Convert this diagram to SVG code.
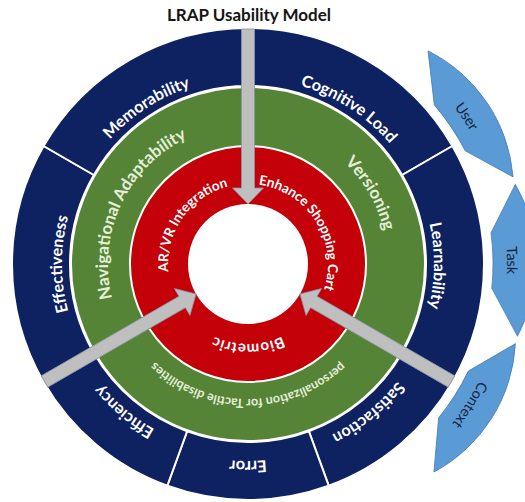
<svg xmlns="http://www.w3.org/2000/svg" width="525" height="502" viewBox="0 0 525 502">
  <defs>
    <style>
      text { font-family: Lato, "Liberation Sans", "DejaVu Sans", sans-serif; font-weight: 700; }
      .title { font-size: 17px; fill: #151515; }
      .nv { font-size: 16.3px; fill: #ffffff; }
      .gr { font-size: 17px; fill: #e4efd9; }
      .gs { font-size: 12.5px; fill: #e4efd9; }
      .rd { font-size: 13.6px; fill: #ffffff; }
      .bl { font-size: 14.5px; font-weight: 400; fill: #17253f; }
      .seg { fill: #0e2161; stroke: #ffffff; stroke-width: 2; }
      .chev { fill: #5b9bd5; stroke: #4a80bb; stroke-width: 0.8; }
      .arr { fill: #bfbfbf; stroke: #8a93a6; stroke-width: 0.8; }
    </style>
    <!-- ring sectors, starting at angle 0 and sweeping clockwise -->
    <path id="sec60" d="M178,0L236,0A236,236 0 0 1 118,204.38L89,154.15A178,178 0 0 0 178,0Z"/>
    <path id="sec40" d="M178,0L236,0A236,236 0 0 1 180.79,151.70L136.36,114.42A178,178 0 0 0 178,0Z"/>
    <!-- outer context band piece, centred on angle 0 -->
    <path id="band" d="M243.43,-27.73L268.46,-75.97A155,155 0 0 1 268.46,75.97L243.43,27.73A245,245 0 0 0 243.43,-27.73Z"/>
    <!-- clockwise circles for labels; 50% offset lands at angle 0 -->
    <path id="c80" d="M-80,0A80,80 0 0 1 80,0A80,80 0 0 1 -80,0"/>
    <path id="c135" d="M-135,0A135,135 0 0 1 135,0A135,135 0 0 1 -135,0"/>
    <path id="c140" d="M-140,0A140,140 0 0 1 140,0A140,140 0 0 1 -140,0"/>
    <path id="c186" d="M-186,0A186,186 0 0 1 186,0A186,186 0 0 1 -186,0"/>
    <path id="c190" d="M-190,0A190,190 0 0 1 190,0A190,190 0 0 1 -190,0"/>
    <path id="c197" d="M-197,0A197,197 0 0 1 197,0A197,197 0 0 1 -197,0"/>
    <path id="c259" d="M-259,0A259,259 0 0 1 259,0A259,259 0 0 1 -259,0"/>
    <!-- arrow pointing along +x, tail at origin -->
    <path id="arrow" d="M0,-6.5H159V-15.5L175,0L159,15.5V6.5H0Z"/>
  </defs>

  <rect width="525" height="502" fill="#ffffff"/>
  <text class="title" x="249" y="21" text-anchor="middle">LRAP Usability Model</text>

  <g transform="translate(248,264)">
    <!-- outer ring: usability attributes -->
    <g id="cognitive-load">
      <use href="#sec60" class="seg" transform="rotate(-90)"/>
      <g transform="rotate(-57)"><text class="nv" text-anchor="middle"><textPath href="#c186" startOffset="50%">Cognitive Load</textPath></text></g>
    </g>
    <g id="learnability">
      <use href="#sec60" class="seg" transform="rotate(-30)"/>
      <g transform="rotate(0.5)"><text class="nv" text-anchor="middle"><textPath href="#c186" startOffset="50%">Learnability</textPath></text></g>
    </g>
    <g id="satisfaction">
      <use href="#sec40" class="seg" transform="rotate(30)"/>
      <g transform="rotate(51)"><text class="nv" text-anchor="middle"><textPath href="#c190" startOffset="50%">Satisfaction</textPath></text></g>
    </g>
    <g id="error">
      <use href="#sec40" class="seg" transform="rotate(70)"/>
      <g transform="rotate(90)"><text class="nv" text-anchor="middle"><textPath href="#c197" startOffset="50%">Error</textPath></text></g>
    </g>
    <g id="efficiency">
      <use href="#sec40" class="seg" transform="rotate(110)"/>
      <g transform="rotate(130)"><text class="nv" text-anchor="middle"><textPath href="#c190" startOffset="50%">Efficiency</textPath></text></g>
    </g>
    <g id="effectiveness">
      <use href="#sec60" class="seg" transform="rotate(150)"/>
      <g transform="rotate(180)"><text class="nv" text-anchor="middle"><textPath href="#c186" startOffset="50%">Effectiveness</textPath></text></g>
    </g>
    <g id="memorability">
      <use href="#sec60" class="seg" transform="rotate(210)"/>
      <g transform="rotate(237)"><text class="nv" text-anchor="middle"><textPath href="#c186" startOffset="50%">Memorability</textPath></text></g>
    </g>

    <!-- middle ring: adaptation features -->
    <g id="adaptation-ring">
      <circle r="177" fill="#568436" stroke="#ffffff" stroke-width="2"/>
    </g>
    <g id="navigational-adaptability">
      <g transform="rotate(205)"><text class="gr" text-anchor="middle"><textPath href="#c140" startOffset="50%">Navigational Adaptability</textPath></text></g>
    </g>
    <g id="versioning">
      <g transform="rotate(-30)"><text class="gr" text-anchor="middle"><textPath href="#c140" startOffset="50%">Versioning</textPath></text></g>
    </g>
    <g id="personalization">
      <g transform="rotate(90)"><text class="gs" text-anchor="middle"><textPath href="#c135" startOffset="50%">personalization for Tactile disabilities</textPath></text></g>
    </g>

    <!-- inner ring: shopping features -->
    <g id="feature-ring">
      <circle r="118" fill="#c40008" stroke="#ffffff" stroke-width="2"/>
    </g>
    <g id="ar-vr-integration">
      <g transform="rotate(215)"><text class="rd" text-anchor="middle"><textPath href="#c80" startOffset="50%">AR/VR Integration</textPath></text></g>
    </g>
    <g id="enhance-shopping-cart">
      <g transform="rotate(-32)"><text class="rd" text-anchor="middle"><textPath href="#c80" startOffset="50%">Enhance Shopping Cart</textPath></text></g>
    </g>
    <g id="biometric">
      <g transform="rotate(90)"><text class="rd" text-anchor="middle" style="font-size:15px" letter-spacing="0.6"><textPath href="#c80" startOffset="50%">Biometric</textPath></text></g>
    </g>

    <g id="core">
      <circle r="60" fill="#ffffff"/>
    </g>

    <!-- context bands on the right -->
    <g id="user" transform="rotate(-34)">
      <use href="#band" class="chev"/>
      <text class="bl" text-anchor="middle"><textPath href="#c259" startOffset="50%">User</textPath></text>
    </g>
    <g id="task" transform="rotate(-0.8)">
      <use href="#band" class="chev"/>
      <text class="bl" text-anchor="middle"><textPath href="#c259" startOffset="50%">Task</textPath></text>
    </g>
    <g id="context" transform="rotate(32.4)">
      <use href="#band" class="chev"/>
      <text class="bl" text-anchor="middle"><textPath href="#c259" startOffset="50%">Context</textPath></text>
    </g>

    <!-- arrows from the outer rim into the core -->
    <g id="connectors">
      <use href="#arrow" class="arr" transform="rotate(-90) translate(235,0) rotate(180)"/>
      <use href="#arrow" class="arr" transform="rotate(150) translate(235,0) rotate(180)"/>
      <use href="#arrow" class="arr" transform="rotate(30) translate(235,0) rotate(180)"/>
    </g>
  </g>
</svg>
